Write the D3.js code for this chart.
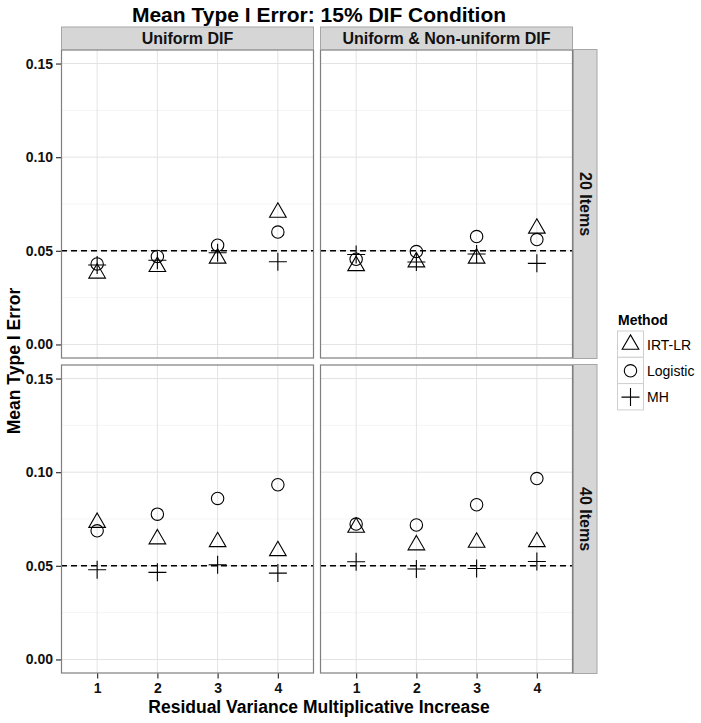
<!DOCTYPE html>
<html>
<head>
<meta charset="utf-8">
<script src="https://cdn.jsdelivr.net/npm/d3@7"></script>
<style>
body { margin: 0; background: #fff; }
text { font-family: "Liberation Sans", Arial, sans-serif; }
</style>
</head>
<body>
<svg id="paper" width="701" height="723"></svg>
<script>
var variance = ["1", "2", "3", "4"];
var methods = ["IRT-LR", "Logistic", "MH"];
var difTypes = ["Uniform DIF", "Uniform & Non-uniform DIF"];
var itemCounts = ["20 Items", "40 Items"];
var yTicks = [0, 0.05, 0.10, 0.15];

// values per method, one array per panel (difType x itemCount)
var u20_irt = [0.038, 0.0415, 0.046, 0.0705];
var u20_log = [0.043, 0.047, 0.053, 0.060];
var u20_mh  = [0.0424, 0.045, 0.049, 0.0442];
var n20_irt = [0.042, 0.044, 0.046, 0.062];
var n20_log = [0.0455, 0.0496, 0.0576, 0.056];
var n20_mh  = [0.048, 0.044, 0.0483, 0.0433];
var u40_irt = [0.0731, 0.0643, 0.0628, 0.058];
var u40_log = [0.0687, 0.0776, 0.086, 0.0933];
var u40_mh  = [0.0479, 0.0465, 0.0506, 0.0461];
var n40_irt = [0.0705, 0.0611, 0.0625, 0.0628];
var n40_log = [0.0723, 0.0718, 0.0826, 0.0966];
var n40_mh  = [0.0522, 0.0483, 0.0486, 0.0523];

var refLine = 0.05;

var panels = [
  {col: 0, row: 0, series: [u20_irt, u20_log, u20_mh]},
  {col: 1, row: 0, series: [n20_irt, n20_log, n20_mh]},
  {col: 0, row: 1, series: [u40_irt, u40_log, u40_mh]},
  {col: 1, row: 1, series: [n40_irt, n40_log, n40_mh]}
];

var svg = d3.select("#paper");

var colX = [61, 320];
var rowY = [49.5, 364.5];
var pw = 253;
var ph = 309;

var x = d3.scalePoint().domain(variance).range([0, pw]).padding(0.6);
var y = d3.scaleLinear().domain([-0.0075, 0.1575]).range([ph, 0]);

function drawShape(g, m, cx, cy) {
  if (m == 0) {
    g.append("path")
     .attr("d", d3.symbol().type(d3.symbolTriangle).size(120)())
     .attr("transform", "translate(" + cx + "," + cy + ")")
     .style("fill", "none").style("stroke", "#000").style("stroke-width", 1.1);
  } else if (m == 1) {
    g.append("circle").attr("cx", cx).attr("cy", cy).attr("r", 6.2)
     .style("fill", "none").style("stroke", "#000").style("stroke-width", 1.1);
  } else {
    g.append("path")
     .attr("d", "M" + (cx - 9) + "," + cy + "H" + (cx + 9) + "M" + cx + "," + (cy - 9) + "V" + (cy + 9))
     .style("fill", "none").style("stroke", "#000").style("stroke-width", 1.1);
  }
}

panels.forEach(function(p) {
  var g = svg.append("g")
    .attr("transform", "translate(" + colX[p.col] + "," + rowY[p.row] + ")");

  g.append("rect").attr("width", pw).attr("height", ph).style("fill", "#fff");

  // minor grid
  [0.025, 0.075, 0.125].forEach(function(v) {
    g.append("line").attr("x1", 0).attr("x2", pw).attr("y1", y(v)).attr("y2", y(v))
     .style("stroke", "#f5f5f5").style("stroke-width", 1);
  });
  yTicks.forEach(function(v) {
    g.append("line").attr("x1", 0).attr("x2", pw).attr("y1", y(v)).attr("y2", y(v))
     .style("stroke", "#e3e3e3").style("stroke-width", 1);
  });
  variance.forEach(function(v) {
    g.append("line").attr("x1", x(v)).attr("x2", x(v)).attr("y1", 0).attr("y2", ph)
     .style("stroke", "#e3e3e3").style("stroke-width", 1);
  });

  g.append("line").attr("x1", 0).attr("x2", pw).attr("y1", y(refLine)).attr("y2", y(refLine))
   .style("stroke", "#000").style("stroke-width", 1.4).style("stroke-dasharray", "6,4");

  p.series.forEach(function(vals, m) {
    vals.forEach(function(v, i) {
      drawShape(g, m, x(variance[i]), y(v));
    });
  });

  g.append("rect").attr("x", 0.5).attr("y", 0.5).attr("width", pw - 1).attr("height", ph - 1)
   .style("fill", "none").style("stroke", "#7f7f7f").style("stroke-width", 1.2);

  if (p.col == 0) {
    var ya = g.append("g")
      .call(d3.axisLeft(y).tickValues(yTicks).tickFormat(d3.format(".2f")).tickSize(5).tickPadding(3));
    ya.select(".domain").remove();
    ya.selectAll("line").style("stroke", "#333").style("stroke-width", 1.2);
    ya.selectAll("text").style("font-size", "14px").style("font-weight", "bold").style("fill", "#111");
  }
  if (p.row == 1) {
    var xa = g.append("g").attr("transform", "translate(0," + ph + ")")
      .call(d3.axisBottom(x).tickSize(5).tickPadding(5));
    xa.select(".domain").remove();
    xa.selectAll("line").style("stroke", "#333").style("stroke-width", 1.2);
    xa.selectAll("text").style("font-size", "14px").style("font-weight", "bold").style("fill", "#111");
  }
});

// top strips
difTypes.forEach(function(d, i) {
  svg.append("rect").attr("x", colX[i] + 0.5).attr("y", 27).attr("width", pw - 1).attr("height", 22.5)
     .style("fill", "#d6d6d6").style("stroke", "#a6a6a6").style("stroke-width", 1);
  svg.append("text").attr("x", colX[i] + pw / 2).attr("y", 44)
     .attr("text-anchor", "middle")
     .style("font-size", "16px").style("font-weight", "bold").style("fill", "#111")
     .text(d);
});

// right strips
itemCounts.forEach(function(d, i) {
  svg.append("rect").attr("x", 573.5).attr("y", rowY[i]).attr("width", 23.5).attr("height", ph)
     .style("fill", "#d6d6d6").style("stroke", "#a6a6a6").style("stroke-width", 1);
  svg.append("text")
     .attr("transform", "translate(579.5," + (rowY[i] + ph / 2) + ") rotate(90)")
     .attr("text-anchor", "middle")
     .style("font-size", "16px").style("font-weight", "bold").style("fill", "#111")
     .text(d);
});

svg.append("text").attr("x", 319).attr("y", 22).attr("text-anchor", "middle")
   .style("font-size", "21px").style("font-weight", "bold").style("fill", "#000")
   .text("Mean Type I Error: 15% DIF Condition");

svg.append("text").attr("x", 319).attr("y", 713).attr("text-anchor", "middle")
   .style("font-size", "17.5px").style("font-weight", "bold").style("fill", "#000")
   .text("Residual Variance Multiplicative Increase");

svg.append("text").attr("transform", "translate(20,361) rotate(-90)").attr("text-anchor", "middle")
   .style("font-size", "17.5px").style("font-weight", "bold").style("fill", "#000")
   .text("Mean Type I Error");

// legend
var lg = svg.append("g").attr("transform", "translate(617,313)");
lg.append("text").attr("x", 1).attr("y", 12)
  .style("font-size", "14px").style("font-weight", "bold").style("fill", "#000")
  .text("Method");
methods.forEach(function(m, i) {
  var ky = 18 + i * 26.3;
  lg.append("rect").attr("x", 0.5).attr("y", ky).attr("width", 26).attr("height", 26.3)
    .style("fill", "#fff").style("stroke", "#cfcfcf").style("stroke-width", 1);
  drawShape(lg, i, 13.5, ky + 13.5);
  lg.append("text").attr("x", 30).attr("y", ky + 18.5)
    .style("font-size", "14px").style("fill", "#000")
    .text(m);
});
</script>
</body>
</html>
